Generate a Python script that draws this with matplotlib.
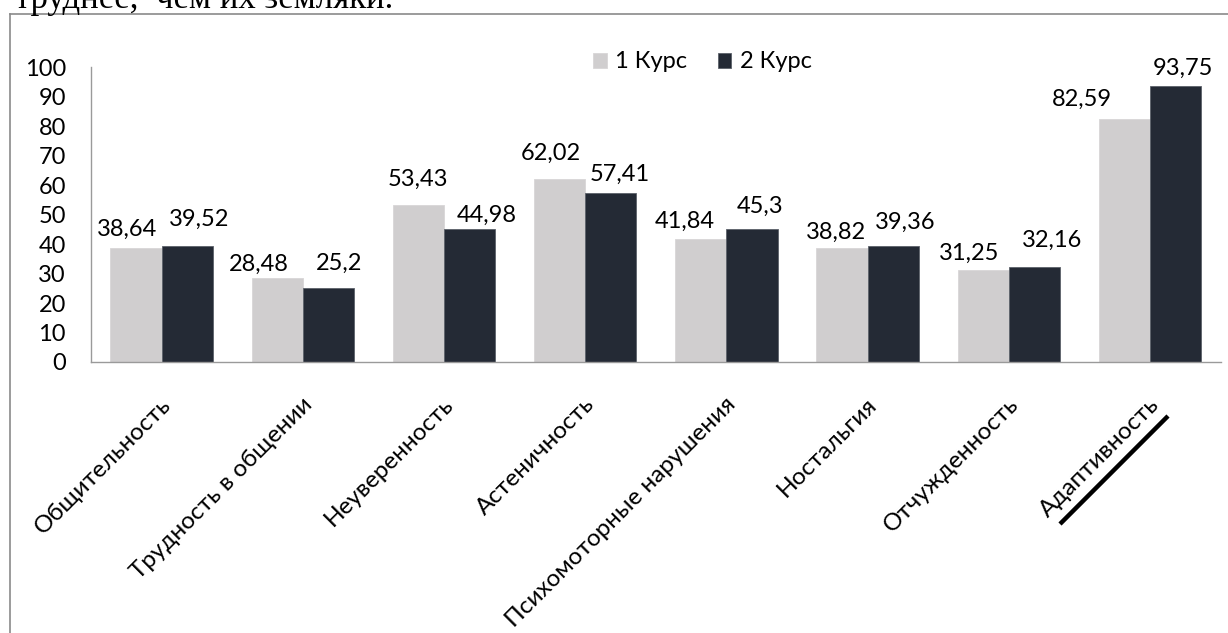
import matplotlib
matplotlib.use("Agg")
import matplotlib.pyplot as plt
from matplotlib.lines import Line2D
import numpy as np

# ---- data ----
categories = ["Общительность", "Трудность в общении", "Неуверенность", "Астеничность",
              "Психомоторные нарушения", "Ностальгия", "Отчужденность", "Адаптивность"]
kurs1 = [38.64, 28.48, 53.43, 62.02, 41.84, 38.82, 31.25, 82.59]
kurs2 = [39.52, 25.2, 44.98, 57.41, 45.3, 39.36, 32.16, 93.75]
series_names = ["1 Курс", "2 Курс"]
yticks = [0, 10, 20, 30, 40, 50, 60, 70, 80, 90, 100]

# label nudges (pixels): manual placement as in the source chart
off1 = [(-9, 12), (-18, 7), (0, 19), (-9, 19), (-16, 11), (-6, 9), (-14, 10), (-42, 13)]
off2 = [(12, 20), (11, 18), (17, 8), (9, 12), (8, 16), (12, 17), (18, 20), (7, 11)]

W, H = 1228, 633
DPI = 100
FONT = ["Lato", "DejaVu Sans"]
FS = 17
FS_CAT = 17.5
c1 = "#d0cecf"
c2 = "#242a35"

fig = plt.figure(figsize=(W / DPI, H / DPI), dpi=DPI)
fig.patch.set_facecolor("white")

# page text cut off above the chart
fig.text(15 / W, 1 - 8 / H, "труднее,  чем их земляки.", family="Liberation Serif",
         fontsize=25, ha="left", va="baseline", color="black")

# chart frame (top and left edges visible)
frame_col = "#8a8a8a"
fig.add_artist(Line2D([10 / W, 10 / W], [1 - 14 / H, -0.01], transform=fig.transFigure,
                      color=frame_col, lw=1.2))
fig.add_artist(Line2D([10 / W, 1.01], [1 - 14 / H, 1 - 14 / H], transform=fig.transFigure,
                      color=frame_col, lw=1.2))

ax_left, ax_right = 91 / W, 1220.6 / W
ax_bottom, ax_top = 1 - 362 / H, 1 - 67.4 / H
ax = fig.add_axes([ax_left, ax_bottom, ax_right - ax_left, ax_top - ax_bottom])

x = np.arange(len(categories))
bw = 0.3633
b1 = ax.bar(x - bw / 2, kurs1, bw, color=c1, edgecolor="#d8d6d7", linewidth=0.6,
            label=series_names[0])
b2 = ax.bar(x + bw / 2, kurs2, bw, color=c2, edgecolor="#5c616a", linewidth=0.6,
            label=series_names[1])

def fmt(v):
    s = ("%.2f" % v).rstrip("0").rstrip(".")
    return s.replace(".", ",")

for xi, v, (dx, dy) in zip(x - bw / 2, kurs1, off1):
    ax.annotate(fmt(v), (xi, v), xytext=(dx, dy), textcoords="offset pixels",
                ha="center", va="baseline", family=FONT, fontsize=FS, color="black")
for xi, v, (dx, dy) in zip(x + bw / 2, kurs2, off2):
    ax.annotate(fmt(v), (xi, v), xytext=(dx, dy), textcoords="offset pixels",
                ha="center", va="baseline", family=FONT, fontsize=FS, color="black")

ax.set_xlim(-0.5, len(categories) - 0.5)
ax.set_ylim(0, 100)
ax.set_yticks(yticks)
ax.set_yticklabels([str(t) for t in yticks], family=FONT, fontsize=FS)
ax.tick_params(axis="y", length=0, pad=18)
ax.set_xticks(x)
ax.set_xticklabels([])
ax.tick_params(axis="x", length=0)

for s in ["top", "right"]:
    ax.spines[s].set_visible(False)
for s in ["left", "bottom"]:
    ax.spines[s].set_color("#9a9a9a")
    ax.spines[s].set_linewidth(1.0)

# rotated category labels
for xi, lab in zip(x, categories):
    ax.annotate(lab, (xi, 0), xytext=(6, -39), textcoords="offset pixels",
                rotation=45, rotation_mode="anchor", ha="right", va="center",
                family=FONT, fontsize=FS_CAT, color="black", annotation_clip=False)

# underline drawn under the last label
fig.add_artist(Line2D([1060 / W, 1168 / W], [1 - 524 / H, 1 - 416 / H],
                      transform=fig.transFigure, color="black", lw=3.2,
                      solid_capstyle="butt"))

# legend
leg = fig.legend(handles=[b1, b2], labels=series_names, loc="center left",
                 bbox_to_anchor=(593 / W, 1 - 62 / H), ncol=2, frameon=False,
                 prop={"family": FONT, "size": FS}, handlelength=0.58, handleheight=0.58,
                 handletextpad=0.35, columnspacing=1.3, borderaxespad=0, borderpad=0)

fig.savefig("out.png", dpi=DPI, facecolor="white")
